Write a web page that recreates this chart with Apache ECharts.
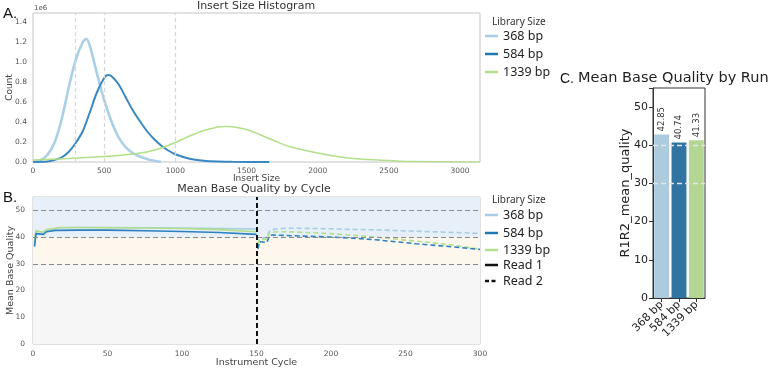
<!DOCTYPE html>
<html>
<head>
<meta charset="utf-8">
<script src="https://cdn.jsdelivr.net/npm/echarts@6/dist/echarts.min.js"></script>
<style>
  html, body { margin: 0; background: #fff; }
  #chart { width: 778px; height: 368px; }
</style>
</head>
<body>
<div id="chart"></div>
<script>
const libraries = ['368 bp', '584 bp', '1339 bp'];
const libColors = ['#a6cee3', '#2b80be', '#b2df8a'];
const barColors = ['#accbdd', '#3274a1', '#b3d693'];

// A. insert size histogram, counts in 1e6
const insert368 = [0, 50, 100, 150, 200, 250, 300, 350, 375, 400, 450, 500, 550, 600, 650, 700, 750, 800, 850, 900];
const count368 = [0, 0.015, 0.07, 0.19, 0.42, 0.74, 1.02, 1.2, 1.23, 1.16, 0.88, 0.62, 0.41, 0.25, 0.15, 0.09, 0.055, 0.03, 0.012, 0];
const insert584 = [0, 100, 150, 200, 250, 300, 350, 400, 450, 500, 525, 550, 600, 650, 700, 750, 800, 850, 900, 950, 1000, 1100, 1200, 1300, 1400, 1660];
const count584 = [0, 0.005, 0.02, 0.045, 0.1, 0.19, 0.31, 0.5, 0.7, 0.84, 0.87, 0.86, 0.78, 0.65, 0.52, 0.41, 0.31, 0.23, 0.165, 0.115, 0.078, 0.033, 0.013, 0.005, 0.002, 0];
const insert1339 = [0, 250, 500, 600, 700, 800, 900, 1000, 1100, 1200, 1300, 1350, 1400, 1500, 1600, 1700, 1800, 1900, 2000, 2100, 2200, 2300, 2400, 2500, 2600, 2800, 3000, 3140];
const count1339 = [0.02, 0.035, 0.055, 0.065, 0.08, 0.1, 0.14, 0.195, 0.26, 0.315, 0.35, 0.356, 0.352, 0.325, 0.27, 0.21, 0.155, 0.12, 0.09, 0.062, 0.043, 0.03, 0.022, 0.015, 0.008, 0.003, 0.001, 0];
const insertGuides = [300, 500, 1000];

// B. mean base quality by cycle
const cyclesRead1 = [1, 2, 3, 7, 9, 10, 15, 17, 30, 50, 75, 100, 125, 150];
const qualR1_368 = [37.0, 42.2, 42.3, 41.9, 42.6, 42.8, 43.2, 43.5, 43.6, 43.6, 43.5, 43.4, 43.2, 43.0];
const qualR1_584 = [36.4, 41.3, 41.4, 41.0, 42.0, 42.4, 42.5, 42.5, 42.6, 42.6, 42.4, 42.1, 41.7, 41.0];
const qualR1_1339 = [38.0, 42.4, 42.3, 41.8, 42.8, 43.0, 43.3, 43.6, 43.6, 43.5, 43.4, 43.2, 42.8, 42.0];
const cyclesRead2 = [151, 152, 157, 158, 159, 165, 170, 180, 200, 212, 230, 257, 279, 300];
const qualR2_368 = [37.5, 39.5, 39.8, 41.5, 42.6, 43.2, 43.3, 43.3, 43.1, 42.9, 42.7, 42.2, 41.8, 41.4];
const qualR2_584 = [35.5, 38.3, 38.0, 39.5, 40.8, 40.7, 40.6, 40.4, 40.0, 39.7, 39.0, 37.5, 36.5, 35.4];
const qualR2_1339 = [37.0, 39.0, 39.2, 40.8, 41.8, 42.0, 42.0, 41.8, 41.3, 40.8, 40.0, 38.5, 37.2, 35.5];
const qualityBands = [0, 30, 40, 55];
const qualityThresholds = [30, 40, 50];
const readSplit = 150;

// C. mean base quality by run
const runQuality = [42.85, 40.74, 41.33];

const font = 'DejaVu Sans';
const zip = (xs, ys) => xs.map((x, i) => [x, ys[i]]);
const every = (step) => (v) => {
  const k = v / step;
  return Math.abs(k - Math.round(k)) < 1e-6 ? v : '';
};

const chart = echarts.init(document.getElementById('chart'), null, { renderer: 'canvas' });

function legend(x, titleY, rows) {
  const items = [{
    type: 'text', x: x + 7, y: titleY,
    style: { text: 'Library Size', fill: '#333', font: '10px "Noto Sans"', verticalAlign: 'middle' },
  }];
  rows.forEach((r) => {
    items.push({
      type: 'line',
      shape: { x1: x, y1: r.y, x2: x + 13, y2: r.y },
      style: { stroke: r.color, lineWidth: 2.5, lineDash: r.dash ? [4, 2.5] : null },
    });
    items.push({
      type: 'text', x: x + 18, y: r.y,
      style: { text: r.text, fill: '#222', font: '12.5px "Noto Sans"', verticalAlign: 'middle' },
    });
  });
  return items;
}

const labelText = (text, x, y, size, opts = {}) => ({
  type: 'text', x, y, rotation: opts.rotation || 0,
  style: {
    text, fill: opts.fill || '#333', font: `${size}px ${opts.family || font}`,
    align: opts.align || 'center', verticalAlign: 'middle',
  },
});

const bandColors = ['#f6f6f6', '#fdf7ee', '#e7f0f8'];

const r1Style = (c) => ({ color: c, width: 1.6 });
const r2Style = (c) => ({ color: c, width: 1.6, type: [5, 3] });

const gridBase = { show: true, borderWidth: 1, backgroundColor: '#fff', outerBoundsMode: 'none', containLabel: false };

chart.setOption({
  animation: false,
  textStyle: { fontFamily: font },
  grid: [
    { ...gridBase, left: 33, top: 13, width: 447, height: 149, borderColor: '#c4c4c4' },
    { ...gridBase, left: 33, top: 197, width: 447, height: 147, borderColor: '#c4c4c4' },
    { ...gridBase, left: 653, top: 88, width: 52, height: 210, borderColor: '#333' },
  ],
  xAxis: [
    {
      gridIndex: 0, type: 'value', min: 0, max: 3140, interval: 500,
      axisLine: { show: false }, axisTick: { show: false }, splitLine: { show: false },
      axisLabel: { fontSize: 7.5, color: '#555', margin: 5, formatter: every(500) },
      name: 'Insert Size', nameLocation: 'middle', nameGap: 12, nameMoveOverlap: false,
      nameTextStyle: { fontSize: 9, color: '#444' },
    },
    {
      gridIndex: 1, type: 'value', min: 0, max: 300, interval: 50,
      axisLine: { show: false }, axisTick: { show: false }, splitLine: { show: false },
      axisLabel: { fontSize: 7.5, color: '#555', margin: 6 },
      name: 'Instrument Cycle', nameLocation: 'middle', nameGap: 14, nameMoveOverlap: false,
      nameTextStyle: { fontSize: 9.5, color: '#444' },
    },
    {
      gridIndex: 2, type: 'category', data: libraries,
      axisLine: { show: true, lineStyle: { color: '#333' } },
      axisTick: { show: true, alignWithLabel: true, length: 4, lineStyle: { color: '#333' } },
      axisLabel: { fontSize: 11, color: '#222', rotate: 45, margin: 5, interval: 0 },
    },
  ],
  yAxis: [
    {
      gridIndex: 0, type: 'value', min: 0, max: 1.49, interval: 0.2,
      axisLine: { show: false }, axisTick: { show: false }, splitLine: { show: false },
      axisLabel: { fontSize: 7.5, color: '#555', margin: 6, formatter: (v) => (every(0.2)(v) === '' ? '' : v.toFixed(1)) },
      name: 'Count', nameLocation: 'middle', nameGap: 19, nameRotate: 90, nameMoveOverlap: false,
      nameTextStyle: { fontSize: 9, color: '#444' },
    },
    {
      gridIndex: 1, type: 'value', min: 0, max: 55, interval: 10,
      axisLine: { show: false }, axisTick: { show: false }, splitLine: { show: false },
      axisLabel: { fontSize: 7.5, color: '#555', margin: 8, formatter: every(10) },
      name: 'Mean Base Quality', nameLocation: 'middle', nameGap: 17, nameRotate: 90, nameMoveOverlap: false,
      nameTextStyle: { fontSize: 9.5, color: '#444' },
    },
    {
      gridIndex: 2, type: 'value', min: 0, max: 55, interval: 10,
      axisLine: { show: true, lineStyle: { color: '#333' } },
      axisTick: { show: true, length: 4, lineStyle: { color: '#333' } },
      splitLine: { show: false },
      axisLabel: { fontSize: 11, color: '#222', margin: 5, formatter: every(10) },
      name: 'R1R2_mean_quality', nameLocation: 'middle', nameGap: 21, nameRotate: 90, nameMoveOverlap: false,
      nameTextStyle: { fontSize: 13, color: '#222' },
    },
  ],
  series: [
    // A
    {
      type: 'line', xAxisIndex: 0, yAxisIndex: 0, data: zip(insert368, count368),
      smooth: 0.3, showSymbol: false, lineStyle: { color: '#a9d0e6', width: 2.6 },
      markLine: {
        silent: true, symbol: 'none', label: { show: false },
        lineStyle: { color: '#d6d6d6', type: [4, 3], width: 1.2 },
        data: insertGuides.map((x) => ({ xAxis: x })),
      },
    },
    {
      type: 'line', xAxisIndex: 0, yAxisIndex: 0, data: zip(insert584, count584),
      smooth: 0.3, showSymbol: false, lineStyle: { color: '#3a88c2', width: 2 },
    },
    {
      type: 'line', xAxisIndex: 0, yAxisIndex: 0, data: zip(insert1339, count1339),
      smooth: 0.3, showSymbol: false, lineStyle: { color: '#b2df8a', width: 1.5 },
    },
    // B
    {
      type: 'line', xAxisIndex: 1, yAxisIndex: 1, data: zip(cyclesRead1, qualR1_368),
      showSymbol: false, lineStyle: r1Style(libColors[0]), z: 3,
      markArea: {
        silent: true,
        data: bandColors.map((c, i) => [
          { yAxis: qualityBands[i], itemStyle: { color: c } },
          { yAxis: qualityBands[i + 1] },
        ]),
      },
      markLine: {
        silent: true, symbol: 'none', label: { show: false },
        data: [
          ...qualityThresholds.map((y) => ({ yAxis: y, lineStyle: { color: '#8a8a8a', type: [5, 3], width: 1.2 } })),
          { xAxis: readSplit, lineStyle: { color: '#111', type: [5, 3], width: 2 } },
        ],
      },
    },
    { type: 'line', xAxisIndex: 1, yAxisIndex: 1, data: zip(cyclesRead1, qualR1_1339), showSymbol: false, lineStyle: r1Style(libColors[2]), z: 3 },
    { type: 'line', xAxisIndex: 1, yAxisIndex: 1, data: zip(cyclesRead1, qualR1_584), showSymbol: false, lineStyle: r1Style(libColors[1]), z: 3 },
    { type: 'line', xAxisIndex: 1, yAxisIndex: 1, data: zip(cyclesRead2, qualR2_368), showSymbol: false, lineStyle: r2Style(libColors[0]), z: 3 },
    { type: 'line', xAxisIndex: 1, yAxisIndex: 1, data: zip(cyclesRead2, qualR2_1339), showSymbol: false, lineStyle: r2Style(libColors[2]), z: 3 },
    { type: 'line', xAxisIndex: 1, yAxisIndex: 1, data: zip(cyclesRead2, qualR2_584), showSymbol: false, lineStyle: r2Style(libColors[1]), z: 3 },
    // C
    {
      type: 'bar', xAxisIndex: 2, yAxisIndex: 2, barWidth: '86%',
      data: runQuality.map((v, i) => ({ value: v, itemStyle: { color: barColors[i] } })),
      label: {
        show: true, position: 'top', rotate: 90, align: 'left', verticalAlign: 'middle',
        distance: 3, fontSize: 8.5, color: '#333', formatter: (p) => p.value.toFixed(2),
      },
      markLine: {
        silent: true, symbol: 'none', label: { show: false },
        lineStyle: { color: '#e4e4e4', type: [5, 3], width: 1.3 },
        data: [{ yAxis: 30 }, { yAxis: 40 }],
      },
    },
  ],
  graphic: [
    labelText('A.', 3, 14, 15, { align: 'left', family: '"Liberation Sans"', fill: '#111' }),
    labelText('B.', 3, 198, 15, { align: 'left', family: '"Liberation Sans"', fill: '#111' }),
    labelText('C.', 560, 79, 14, { align: 'left', family: '"Liberation Sans"', fill: '#111' }),
    labelText('Insert Size Histogram', 256, 6, 11, { fill: '#333' }),
    labelText('Mean Base Quality by Cycle', 254, 189, 11, { fill: '#333' }),
    labelText('Mean Base Quality by Run', 578, 78, 14.5, { align: 'left', fill: '#222' }),
    labelText('1e6', 34, 8, 7, { align: 'left', fill: '#555' }),
    ...legend(485, 22, [
      { y: 36, text: '368 bp', color: libColors[0] },
      { y: 54, text: '584 bp', color: '#1f78b4' },
      { y: 72, text: '1339 bp', color: libColors[2] },
    ]),
    ...legend(485, 200, [
      { y: 215, text: '368 bp', color: libColors[0] },
      { y: 233, text: '584 bp', color: '#1f78b4' },
      { y: 250, text: '1339 bp', color: libColors[2] },
      { y: 265, text: 'Read 1', color: '#111' },
      { y: 281, text: 'Read 2', color: '#111', dash: true },
    ]),
  ],
});
</script>
</body>
</html>
